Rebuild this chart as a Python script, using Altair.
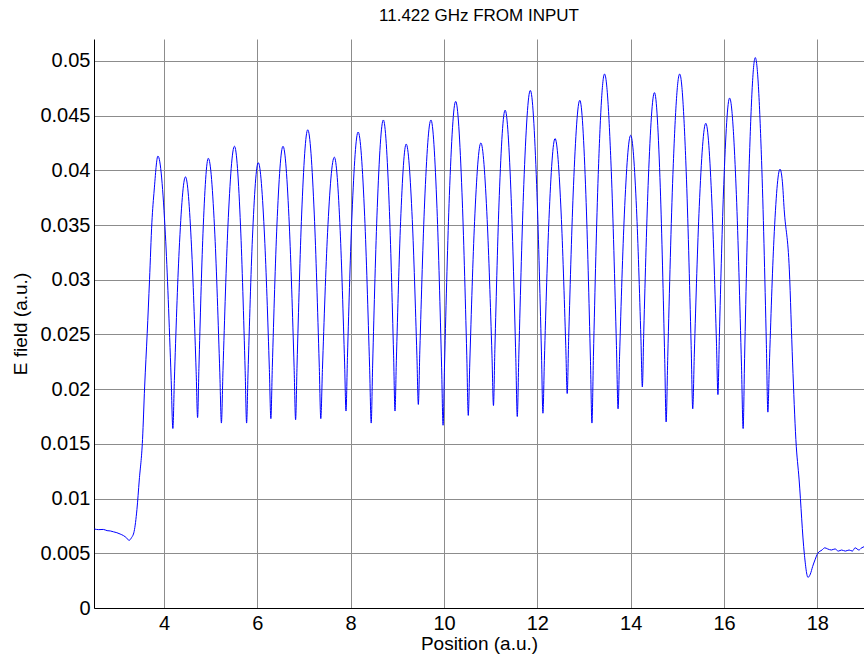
import altair as alt
import pandas as pd

# Lead-in segment (before the structure)
lead_x = [2.51, 2.60, 2.70, 2.78, 2.85, 2.92, 2.99, 3.06, 3.13, 3.20, 3.25, 3.30, 3.36,
          3.42, 3.47, 3.54, 3.585, 3.64, 3.69, 3.74, 3.79]
lead_y = [0.00722, 0.00716, 0.00718, 0.00707, 0.00704, 0.00696, 0.00688, 0.00676, 0.00662,
          0.00640, 0.00618, 0.00640, 0.00700, 0.00900, 0.01170, 0.01540, 0.02020, 0.02510,
          0.03000, 0.03520, 0.03820]

# Oscillating field inside the structure (peaks, flanks, troughs)
wave_x = [3.87, 4.03, 4.152, 4.19, 4.222, 4.325,
          4.46, 4.59, 4.689, 4.72, 4.748, 4.835,
          4.95, 5.09, 5.196, 5.23, 5.264, 5.37,
          5.51, 5.64, 5.739, 5.77, 5.80, 5.895,
          6.02, 6.155, 6.258, 6.29, 6.321, 6.42,
          6.55, 6.685, 6.788, 6.82, 6.851, 6.95,
          7.08, 7.22, 7.326, 7.36, 7.395, 7.505,
          7.65, 7.775, 7.87, 7.90, 7.931, 8.03,
          8.16, 8.30, 8.406, 8.44, 8.471, 8.57,
          8.70, 8.825, 8.92, 8.95, 8.979, 9.07,
          9.19, 9.32, 9.419, 9.45, 9.482, 9.585,
          9.72, 9.85, 9.949, 9.98, 10.012, 10.115,
          10.25, 10.385, 10.488, 10.52, 10.552, 10.655,
          10.79, 10.925, 11.028, 11.06, 11.09, 11.185,
          11.31, 11.44, 11.539, 11.57, 11.604, 11.71,
          11.85, 11.985, 12.088, 12.12, 12.151, 12.25,
          12.38, 12.51, 12.609, 12.64, 12.672, 12.775,
          12.91, 13.04, 13.139, 13.17, 13.202, 13.305,
          13.44, 13.585, 13.695, 13.73, 13.762, 13.865,
          14.00, 14.125, 14.22, 14.25, 14.281, 14.38,
          14.51, 14.635, 14.73, 14.76, 14.795, 14.905,
          15.05, 15.19, 15.296, 15.33, 15.364, 15.47,
          15.61, 15.74, 15.839, 15.87, 15.90, 15.995,
          16.12, 16.265, 16.375, 16.41, 16.441, 16.54,
          16.67, 16.805, 16.908, 16.94, 16.971, 17.07,
          17.20]
wave_y = [0.0413, 0.0341, 0.0211, 0.0164, 0.0208, 0.0327,
          0.0394, 0.0330, 0.0216, 0.0174, 0.0219, 0.0342,
          0.0411, 0.0341, 0.0215, 0.0169, 0.0217, 0.0349,
          0.0422, 0.0349, 0.0217, 0.0169, 0.0214, 0.0338,
          0.0407, 0.0339, 0.0218, 0.0173, 0.0220, 0.0350,
          0.0422, 0.0350, 0.0220, 0.0172, 0.0222, 0.0360,
          0.0437, 0.0360, 0.0223, 0.0173, 0.0218, 0.0343,
          0.0412, 0.0345, 0.0224, 0.0180, 0.0229, 0.0361,
          0.0435, 0.0358, 0.0220, 0.0169, 0.0222, 0.0366,
          0.0446, 0.0369, 0.0231, 0.0180, 0.0226, 0.0353,
          0.0424, 0.0355, 0.0231, 0.0186, 0.0235, 0.0371,
          0.0446, 0.0365, 0.0220, 0.0167, 0.0223, 0.0377,
          0.0463, 0.0380, 0.0231, 0.0176, 0.0223, 0.0353,
          0.0425, 0.0355, 0.0231, 0.0185, 0.0236, 0.0377,
          0.0455, 0.0374, 0.0228, 0.0175, 0.0232, 0.0387,
          0.0473, 0.0387, 0.0234, 0.0178, 0.0226, 0.0356,
          0.0429, 0.0361, 0.0240, 0.0196, 0.0247, 0.0386,
          0.0464, 0.0378, 0.0225, 0.0169, 0.0230, 0.0396,
          0.0488, 0.0399, 0.0240, 0.0182, 0.0230, 0.0360,
          0.0432, 0.0365, 0.0246, 0.0202, 0.0253, 0.0393,
          0.0471, 0.0384, 0.0227, 0.0170, 0.0230, 0.0396,
          0.0488, 0.0399, 0.0240, 0.0182, 0.0232, 0.0367,
          0.0443, 0.0371, 0.0242, 0.0195, 0.0247, 0.0387,
          0.0466, 0.0378, 0.0221, 0.0164, 0.0228, 0.0405,
          0.0503, 0.0409, 0.0241, 0.0179, 0.0221, 0.0337,
          0.0401]

# Tail segment (after the structure)
tail_x = [17.25, 17.29, 17.40, 17.47, 17.54, 17.61, 17.72, 17.80, 17.85, 17.90, 17.95,
          18.01, 18.10, 18.16, 18.22, 18.30, 18.38, 18.45, 18.52, 18.60, 18.68, 18.75,
          18.81, 18.89, 18.95, 19.00]
tail_y = [0.0390, 0.0364, 0.0309, 0.0224, 0.0154, 0.0117, 0.0050, 0.0028, 0.0031, 0.0038,
          0.0044, 0.0050, 0.0053, 0.0055, 0.0054, 0.0053, 0.0054, 0.0052, 0.0053, 0.0052,
          0.0053, 0.0052, 0.0055, 0.0053, 0.0055, 0.0056]

x_ticks = [4, 6, 8, 10, 12, 14, 16, 18]
y_ticks = [0, 0.005, 0.01, 0.015, 0.02, 0.025, 0.03, 0.035, 0.04, 0.045, 0.05]

xs = lead_x + wave_x + tail_x
ys = lead_y + wave_y + tail_y
df = pd.DataFrame({"pos": xs, "field": ys, "idx": list(range(len(xs)))})

FONT = "Liberation Sans"

chart = alt.Chart(df).mark_line(
    color="#0000ff", strokeWidth=1, interpolate="monotone", clip=True
).encode(
    x=alt.X("pos:Q",
            scale=alt.Scale(domain=[2.5, 19.0], nice=False, zero=False),
            axis=alt.Axis(values=x_ticks, title="Position (a.u.)", grid=True,
                          ticks=False, labelPadding=5, titlePadding=1,
                          labelFontSize=20, titleFontSize=19)),
    y=alt.Y("field:Q",
            scale=alt.Scale(domain=[0, 0.052], nice=False, zero=True),
            axis=alt.Axis(values=y_ticks, title="E field (a.u.)", format="~g", grid=True,
                          ticks=False, labelPadding=4, titlePadding=9,
                          labelFontSize=20, titleFontSize=19)),
    order="idx:Q",
).properties(
    width=770,
    height=569,
    title=alt.TitleParams("11.422 GHz FROM INPUT", anchor="middle", fontSize=17,
                          fontWeight="normal", font=FONT, color="black", offset=14),
    padding={"left": 94, "top": 39, "right": 0, "bottom": 53},
    autosize=alt.AutoSizeParams(type="none"),
).configure_view(
    stroke=None
).configure_axis(
    labelFont=FONT, titleFont=FONT, labelColor="black", titleColor="black",
    titleFontWeight="normal", domainColor="black", domainWidth=1,
    gridColor="#8c8c8c", gridWidth=1, gridOpacity=1,
)

chart.save("out.html", embed_options={"renderer": "svg", "actions": False})
